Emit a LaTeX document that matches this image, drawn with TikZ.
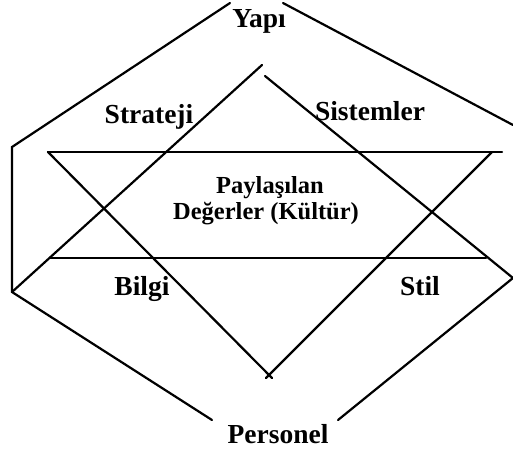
\documentclass[tikz,border=0pt]{standalone}
\usepackage{fontspec}
\setmainfont{Liberation Serif}
\begin{document}
\begin{tikzpicture}[x=1pt,y=-1pt,
  edge/.style={line width=2.2pt, line cap=round, line join=miter},
  lbl/.style={font=\fontsize{27.5}{30}\selectfont\bfseries, inner sep=0pt, anchor=base, align=center},
  core/.style={lbl, font=\fontsize{24.5}{27}\selectfont\bfseries}]
\useasboundingbox (0,0) rectangle (513,455);

% outer frame
\coordinate (o1) at (230,3);
\coordinate (o2) at (12,147);
\coordinate (o3) at (12,292);
\coordinate (o4) at (212,420);
\coordinate (o5) at (283,3);
\coordinate (o6) at (513,125);
\coordinate (o7) at (513,278);
\coordinate (o8) at (338,420);

% upward triangle
\coordinate (u1) at (262,65);
\coordinate (u2) at (265,76);

% downward triangle and the two bands
\coordinate (d1) at (48,152);
\coordinate (d2) at (492,152);
\coordinate (d3) at (272,378);
\coordinate (d4) at (266,378);
\coordinate (h1) at (502,152);
\coordinate (h2) at (50,258);
\coordinate (h3) at (486,258);

\draw[edge] (o1) -- (o2) -- (o3) -- (o4);
\draw[edge] (o5) -- (o6);
\draw[edge] (o8) -- (o7) -- (u2);
\draw[edge] (o3) -- (u1);
\draw[edge] (d1) -- (h1);
\draw[edge] (h2) -- (h3);
\draw[edge] (d1) -- (d3);
\draw[edge] (d2) -- (d4);

% labels
\node[lbl] (yapi) at (259,27) {Yapı};
\node[lbl] (strateji) at (149,123) {Strateji};
\node[lbl] (sistemler) at (370,120) {Sistemler};
\node[core] (paylasilan) at (270,193) {Paylaşılan};
\node[core] (degerler) at (266,219) {Değerler (Kültür)};
\node[lbl] (bilgi) at (142,295) {Bilgi};
\node[lbl] (stil) at (420,295) {Stil};
\node[lbl] (personel) at (278,443) {Personel};
\end{tikzpicture}
\end{document}
